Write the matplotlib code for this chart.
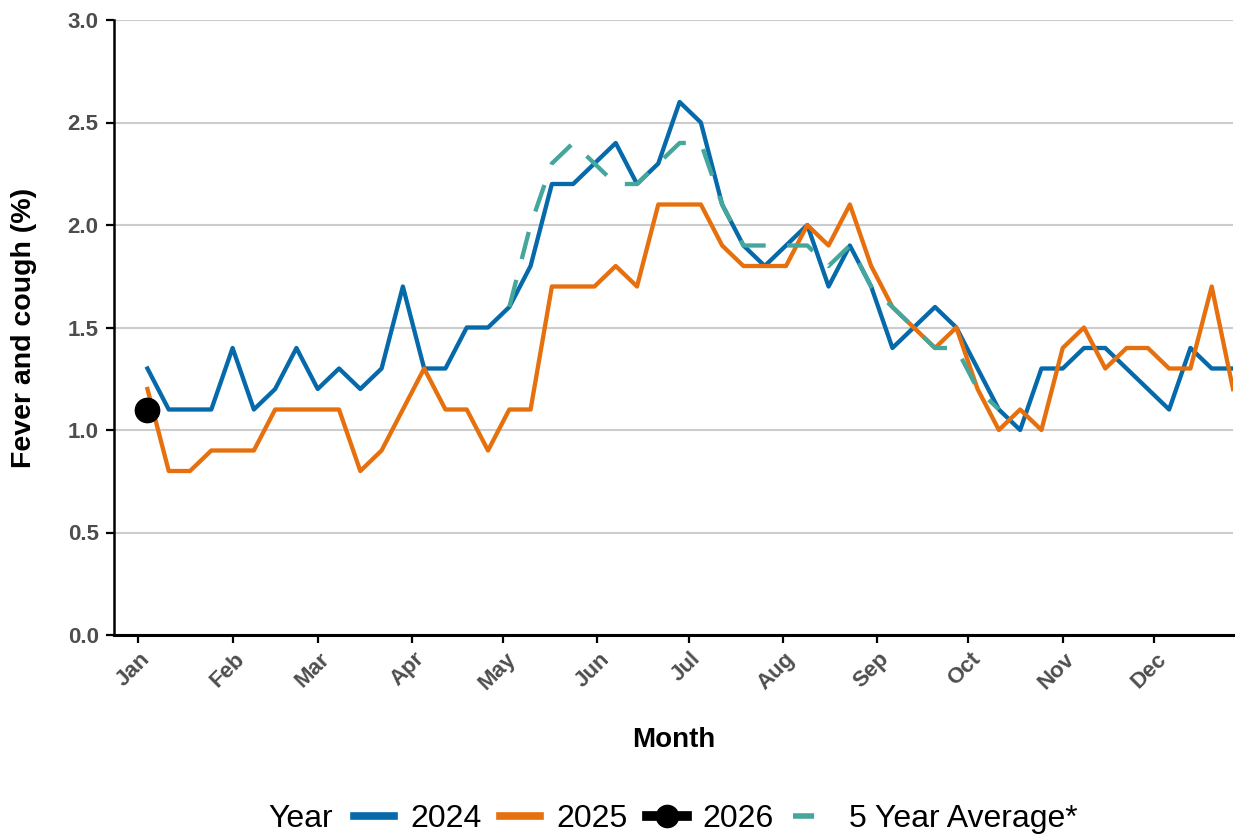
import numpy as np
import pandas as pd
import matplotlib
matplotlib.use("Agg")
import matplotlib.pyplot as plt
from matplotlib.lines import Line2D
from matplotlib.transforms import ScaledTranslation

plt.rcParams['font.family'] = ['Liberation Sans', 'DejaVu Sans']

# weekly values, plotted on a common calendar year
weeks = pd.date_range('2025-01-04', periods=52, freq='7D')
month_ticks = pd.date_range('2025-01-01', periods=12, freq='MS')

y2024 = [1.3, 1.1, 1.1, 1.1, 1.4, 1.1, 1.2, 1.4, 1.2, 1.3, 1.2, 1.3, 1.7, 1.3,
         1.3, 1.5, 1.5, 1.6, 1.8, 2.2, 2.2, 2.3, 2.4, 2.2, 2.3, 2.6, 2.5, 2.1, 1.9, 1.8,
         1.9, 2.0, 1.7, 1.9, 1.7, 1.4, 1.5, 1.6, 1.5, 1.3,
         1.1, 1.0, 1.3, 1.3, 1.4, 1.4, 1.3, 1.2, 1.1, 1.4,
         1.3, 1.3]
y2025 = [1.2, 0.8, 0.8, 0.9, 0.9, 0.9, 1.1, 1.1, 1.1, 1.1, 0.8, 0.9, 1.1, 1.3,
         1.1, 1.1, 0.9, 1.1, 1.1, 1.7, 1.7, 1.7, 1.8, 1.7, 2.1, 2.1, 2.1, 1.9, 1.8, 1.8,
         1.8, 2.0, 1.9, 2.1, 1.8, 1.6, 1.5, 1.4, 1.5, 1.2,
         1.0, 1.1, 1.0, 1.4, 1.5, 1.3, 1.4, 1.4, 1.3, 1.3,
         1.7, 1.2]
y2026 = [1.1]
avg_start = 17
y_avg = [1.6, 2.0, 2.3, 2.4, 2.3, 2.2, 2.2, 2.3, 2.4, 2.4, 2.1, 1.9,
         1.9, 1.9, 1.9, 1.8, 1.9, 1.7, 1.6, 1.5, 1.4, 1.4, 1.2, 1.1]

c_2024 = '#0669AA'
c_2025 = '#E6700E'
c_2026 = '#000000'
c_avg = '#45A79B'
grey = '#4D4D4D'

fig = plt.figure(figsize=(12.36, 8.36), dpi=100)
ax = fig.add_axes([114/1236, 1 - 635/836, (1233 - 114)/1236, (635 - 20)/836])

ax.plot(weeks, y2024, color=c_2024, lw=3.1, zorder=3)
ax.plot(weeks, y2025, color=c_2025, lw=3.1, zorder=4)
ax.plot(weeks[:len(y2026)], y2026, color=c_2026, marker='o', ms=17.5, lw=3.1, zorder=5)
avg_line, = ax.plot(weeks[avg_start:avg_start + len(y_avg)], y_avg, color=c_avg, lw=3.1,
                    zorder=6, dash_capstyle='butt')
avg_line.set_dashes([6.5, 5])

ax.set_ylim(0, 3.0)
ax.set_yticks(np.arange(0, 3.01, 0.5))
ax.set_xlim(weeks[0] - pd.Timedelta(days=11), weeks[-1])
ax.set_xticks(month_ticks)
ax.set_xticklabels(month_ticks.strftime('%b'))

ax.grid(axis='y', color='#CCCCCC', lw=1.5)
ax.grid(axis='x', visible=False)
ax.set_axisbelow(True)
for s in ['top', 'right']:
    ax.spines[s].set_visible(False)
ax.spines['left'].set_linewidth(1.8)
ax.spines['bottom'].set_linewidth(2.2)

ax.tick_params(axis='both', length=6, width=1.6, color='black', labelcolor=grey, labelsize=16)
ax.tick_params(axis='y', pad=5)
ax.tick_params(axis='x', pad=9)
for lab in ax.get_yticklabels():
    lab.set_fontweight('bold')
# rotated month labels, nudged right like the original
shift = ScaledTranslation(9/100, 0, fig.dpi_scale_trans)
for tick in ax.xaxis.get_major_ticks():
    lab = tick.label1
    lab.set_fontweight('bold')
    lab.set_rotation(45)
    lab.set_ha('right')
    lab.set_va('center')
    lab.set_rotation_mode('anchor')
    lab.set_transform(lab.get_transform() + shift)

ax.set_ylabel('Fever and cough (%)', fontsize=20.5, fontweight='bold', labelpad=22)
ax.set_xlabel('Month', fontsize=20, fontweight='bold', labelpad=24)

# legend along the bottom
fig.text(268/1236, 1 - 819/836, 'Year', fontsize=23, va='center', ha='left')
handles = [
    Line2D([], [], color=c_2024, lw=5.5),
    Line2D([], [], color=c_2025, lw=5.5),
    Line2D([], [], color=c_2026, lw=7, marker='o', ms=16),
    Line2D([], [], color=c_avg, lw=4, dashes=[3.8, 6]),
]
fig.legend(handles, ['2024', '2025', '2026', '5 Year Average*'], loc='center left',
           bbox_to_anchor=(354/1236, 1 - 819/836), ncol=4, frameon=False, fontsize=23,
           handlelength=1.25, handletextpad=0.5, columnspacing=0.6,
           borderpad=0, borderaxespad=0)

fig.savefig('out.png', dpi=100)
